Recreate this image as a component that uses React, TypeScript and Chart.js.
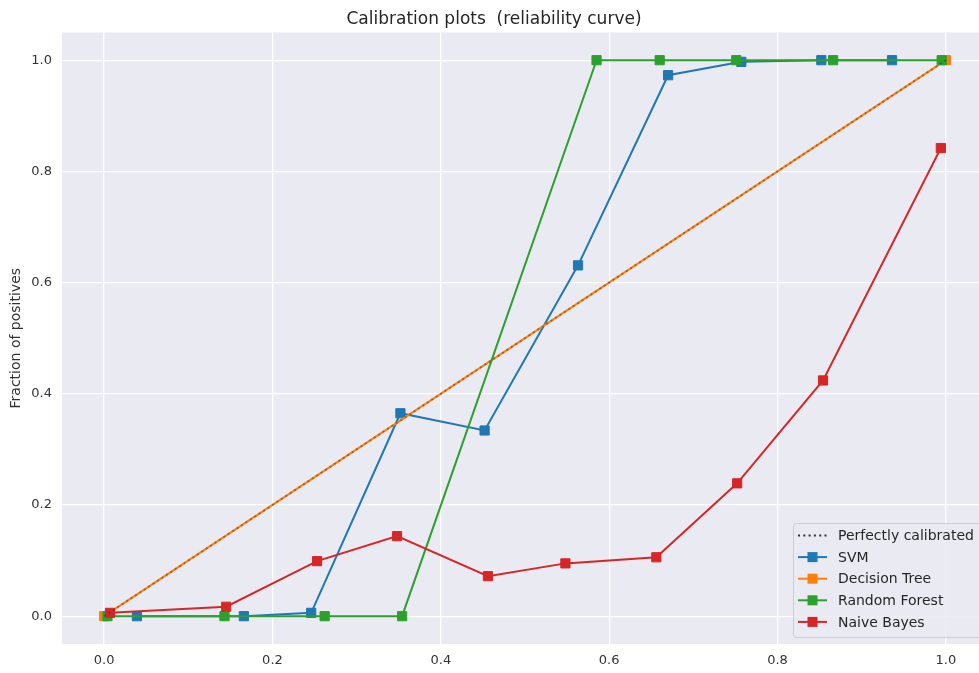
import React, { useEffect, useRef } from "react";
import { Chart, registerables } from "chart.js";

Chart.register(...registerables);

const FONT = "'DejaVu Sans', sans-serif";
const W = 1054;
const H = 673;

const TITLE = "Calibration plots  (reliability curve)";
const Y_TITLE = "Fraction of positives";
const X_TICKS = [0, 0.2, 0.4, 0.6, 0.8, 1.0];
const Y_TICKS = [0, 0.2, 0.4, 0.6, 0.8, 1.0];

const PERFECT_X = [0, 1];
const PERFECT_Y = [0, 1];

const SVM_X = [0.039, 0.166, 0.246, 0.352, 0.452, 0.563, 0.67, 0.757, 0.852, 0.936];
const SVM_Y = [0.0, 0.0, 0.006, 0.365, 0.334, 0.631, 0.973, 0.997, 1.0, 1.0];

const DT_X = [0.0, 1.0];
const DT_Y = [0.0, 1.0];

const RF_X = [0.004, 0.143, 0.262, 0.354, 0.585, 0.66, 0.751, 0.866, 0.995];
const RF_Y = [0.0, 0.0, 0.0, 0.0, 1.0, 1.0, 1.0, 1.0, 1.0];

const NB_X = [0.007, 0.145, 0.253, 0.348, 0.456, 0.548, 0.656, 0.752, 0.854, 0.994];
const NB_Y = [0.006, 0.017, 0.099, 0.144, 0.072, 0.095, 0.106, 0.239, 0.424, 0.842];

const LABELS = ["Perfectly calibrated", "SVM", "Decision Tree", "Random Forest", "Naive Bayes"];
const COLORS = ["#333333", "#1f77b4", "#ff7f0e", "#2ca02c", "#d62728"];

const pts = (xs: number[], ys: number[]) => xs.map((x, i) => ({ x, y: ys[i] }));

const bgPlugin = {
  id: "bgPlugin",
  beforeDraw(chart: any) {
    const { ctx, chartArea } = chart;
    ctx.save();
    ctx.fillStyle = "#ffffff";
    ctx.fillRect(0, 0, chart.width, chart.height);
    ctx.fillStyle = "#EAEAF2";
    ctx.fillRect(chartArea.left, chartArea.top, chartArea.right - chartArea.left, chartArea.bottom - chartArea.top);
    ctx.restore();
  },
};

const legendPlugin = {
  id: "legendPlugin",
  afterDraw(chart: any) {
    const { ctx, chartArea } = chart;
    const right = chartArea.right - 7;
    const bottom = chartArea.bottom - 7;
    const boxW = 188;
    const boxH = 114;
    const left = right - boxW;
    const top = bottom - boxH;
    ctx.save();
    ctx.beginPath();
    ctx.roundRect(left + 0.5, top + 0.5, boxW, boxH, 3);
    ctx.fillStyle = "rgba(234,234,242,0.85)";
    ctx.fill();
    ctx.strokeStyle = "#cccccc";
    ctx.lineWidth = 1;
    ctx.stroke();
    const x0 = left + 5;
    const x1 = x0 + 29;
    const mx = (x0 + x1) / 2;
    ctx.font = `14px ${FONT}`;
    ctx.textBaseline = "middle";
    ctx.textAlign = "left";
    LABELS.forEach((label, i) => {
      const y = top + 12.5 + i * 21.6;
      ctx.beginPath();
      ctx.moveTo(x0, y);
      ctx.lineTo(x1, y);
      ctx.strokeStyle = COLORS[i];
      ctx.lineWidth = 2;
      if (i === 0) ctx.setLineDash([2, 3.3]);
      else ctx.setLineDash([]);
      ctx.stroke();
      ctx.setLineDash([]);
      if (i > 0) {
        ctx.fillStyle = COLORS[i];
        ctx.fillRect(mx - 5, y - 5, 10, 10);
      }
      ctx.fillStyle = "#262626";
      ctx.fillText(label, x1 + 11, y + 1);
    });
    ctx.restore();
  },
};

const lineDs = (label: string, data: any[], color: string, order: number) => ({
  label,
  data,
  order,
  borderColor: color,
  backgroundColor: color,
  borderWidth: 2,
  pointStyle: "rect",
  pointRadius: 6.5,
  pointBorderWidth: 1,
  pointBackgroundColor: color,
  pointBorderColor: color,
  showLine: true,
  fill: false,
  tension: 0,
});

export default function App() {
  const ref = useRef<HTMLCanvasElement>(null);
  useEffect(() => {
    const chart = new Chart(ref.current as HTMLCanvasElement, {
      type: "line",
      data: {
        datasets: [
          {
            label: LABELS[0],
            data: pts(PERFECT_X, PERFECT_Y),
            order: 0,
            borderColor: "rgba(30,30,30,0.35)",
            borderWidth: 2,
            borderDash: [2, 3.3],
            pointRadius: 0,
            fill: false,
            tension: 0,
          } as any,
          lineDs(LABELS[1], pts(SVM_X, SVM_Y), COLORS[1], 4),
          lineDs(LABELS[2], pts(DT_X, DT_Y), COLORS[2], 3),
          lineDs(LABELS[3], pts(RF_X, RF_Y), COLORS[3], 2),
          lineDs(LABELS[4], pts(NB_X, NB_Y), COLORS[4], 1),
        ],
      },
      options: {
        responsive: false,
        animation: false,
        devicePixelRatio: 1,
        layout: { padding: { left: 0, right: W - 988, top: 0, bottom: 0 } },
        plugins: {
          legend: { display: false },
          tooltip: { enabled: false },
          title: {
            display: true,
            text: TITLE,
            color: "#262626",
            font: { family: FONT, size: 17, weight: "normal" },
            padding: { top: 9, bottom: 3 },
          },
        },
        scales: {
          x: {
            type: "linear",
            min: -0.05,
            max: 1.05,
            afterBuildTicks: (s: any) => {
              s.ticks = X_TICKS.map((v) => ({ value: v }));
            },
            afterFit: (s: any) => {
              s.height = 29;
            },
            grid: { color: "#ffffff", lineWidth: 1.3, drawTicks: false },
            border: { display: false },
            ticks: {
              padding: 9,
              color: "#333333",
              font: { family: FONT, size: 13 },
              callback: (v: any) => Number(v).toFixed(1),
            },
          },
          y: {
            type: "linear",
            min: -0.05,
            max: 1.05,
            afterBuildTicks: (s: any) => {
              s.ticks = Y_TICKS.map((v) => ({ value: v }));
            },
            afterFit: (s: any) => {
              s.width = 62;
            },
            grid: { color: "#ffffff", lineWidth: 1.3, drawTicks: false },
            border: { display: false },
            title: {
              display: true,
              text: Y_TITLE,
              color: "#333333",
              font: { family: FONT, size: 14 },
              padding: { top: 8, bottom: 0 },
            },
            ticks: {
              padding: 10,
              color: "#333333",
              font: { family: FONT, size: 13 },
              callback: (v: any) => Number(v).toFixed(1),
            },
          },
        },
      },
      plugins: [bgPlugin, legendPlugin],
    } as any);
    return () => chart.destroy();
  }, []);
  return (
    <div style={{ position: "absolute", left: 0, top: 0, width: 979, height: 673, overflow: "hidden", background: "#fff" }}>
      <canvas ref={ref} width={W} height={H} style={{ width: W, height: H, display: "block" }} />
    </div>
  );
}
